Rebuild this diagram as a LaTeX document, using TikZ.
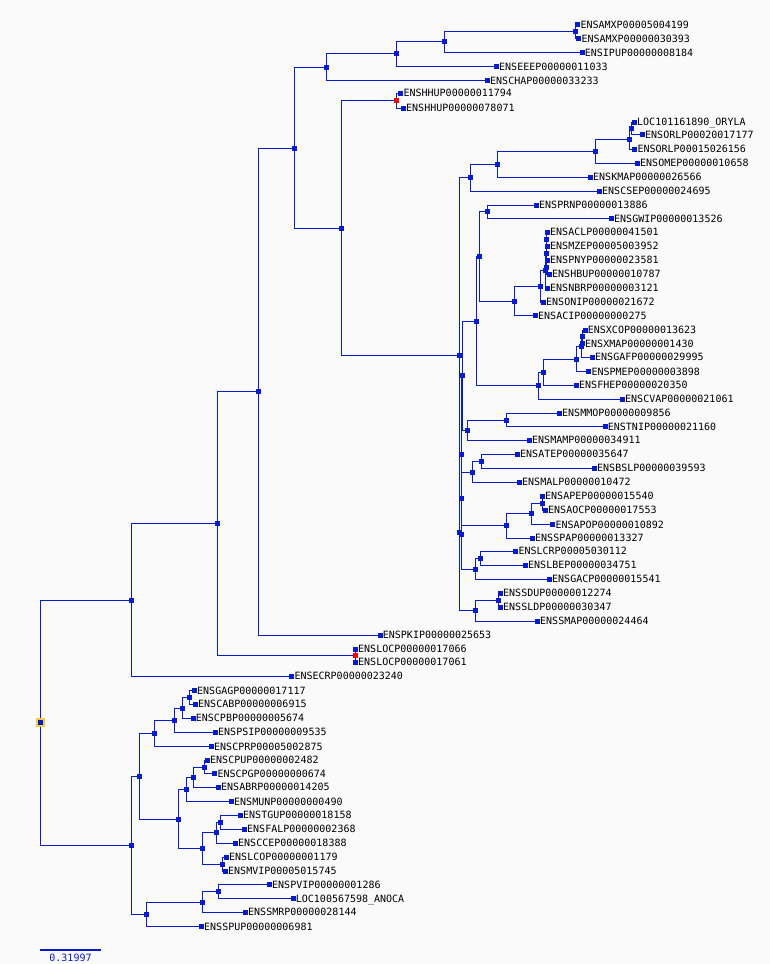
\documentclass[tikz,border=0pt]{standalone}
\usepackage{fontspec}
\setmonofont{DejaVu Sans Mono}
\usetikzlibrary{backgrounds}
\definecolor{tb}{RGB}{8,28,204}
\definecolor{bgc}{RGB}{250,250,250}
\definecolor{hl}{RGB}{240,205,70}
\tikzset{
  leaf/.style={rectangle,fill=tb,minimum size=5pt,inner sep=0pt,label distance=2.2pt},
  inode/.style={rectangle,fill=tb,minimum size=5pt,inner sep=0pt},
  rnode/.style={rectangle,fill=red,minimum size=5pt,inner sep=0pt},
  lab/.style={inner sep=0pt,font=\ttfamily\fontsize{10}{10}\selectfont,text=black,text height=7.3pt,text depth=0pt},
  edge/.style={draw=tb,line width=1pt}
}
\newcommand\lf[3]{\node[leaf,label={[lab]right:#3}] (#1) at (#2) {};}
\newcommand\nd[2]{\node[inode] (#1) at (#2) {};}
\begin{document}
\begin{tikzpicture}[x=1pt,y=-1pt]
\useasboundingbox (0,0) rectangle (770,964);
% root
\node[rectangle,fill=hl,minimum size=9pt,inner sep=0pt] (rh) at (40.5,722) {};
\nd{r}{40.5,722}
\nd{D}{131.7,600}
\nd{C}{217,523}
\nd{B}{258,391}
\nd{A}{294,148}
\nd{T1}{326,67.3}
\nd{T2}{396,53.5}
\nd{T3}{444,41.5}
\nd{T4}{575.5,31.3}
\lf{AMX1}{577.7,24.5}{ENSAMXP00005004199}
\lf{AMX2}{578.7,38.5}{ENSAMXP00000030393}
\lf{IPU}{582,52.7}{ENSIPUP00000008184}
\lf{EEE}{496.3,66.7}{ENSEEEP00000011033}
\lf{CHA}{487.3,80.7}{ENSCHAP00000033233}
\nd{H}{341,228}
\node[rnode] (HH) at (396.3,100.7) {};
\lf{HHU1}{400.7,93.3}{ENSHHUP00000011794}
\lf{HHU2}{403.3,108}{ENSHHUP00000078071}
\nd{BIG}{459.7,355.3}
\nd{N177}{470.3,177.3}
\nd{N164}{497.3,164.3}
\nd{N151}{595.3,151.3}
\nd{N139}{629.3,139.3}
\nd{N128}{631.3,128.3}
\lf{ORYLA}{634.3,122.3}{LOC101161890\_ORYLA}
\lf{ORLP1}{642.3,134.7}{ENSORLP00020017177}
\lf{ORLP2}{634.7,149}{ENSORLP00015026156}
\lf{OMEP}{637.3,163.3}{ENSOMEP00000010658}
\lf{KMAP}{590.3,177.3}{ENSKMAP00000026566}
\lf{CSEP}{599.3,191.3}{ENSCSEP00000024695}
\nd{N532}{459.5,532.3}
\nd{N454}{461.5,454.3}
\nd{N375}{462,375.3}
\nd{N321}{476,321.7}
\nd{N256}{479.3,256}
\nd{N211}{487.3,211}
\lf{PRNP}{536.3,205}{ENSPRNP00000013886}
\lf{GWIP}{611.3,218.7}{ENSGWIP00000013526}
\nd{N301}{514.7,301.3}
\nd{N286}{540.3,286.3}
\nd{N270}{545.3,270.8}
\nd{N253}{546.2,253.3}
\nd{N239}{546.8,239.2}
\nd{N267}{546.5,267.3}
\lf{ACLP}{547.3,232.3}{ENSACLP00000041501}
\lf{MZEP}{547.3,246}{ENSMZEP00005003952}
\lf{PNYP}{547.3,260.3}{ENSPNYP00000023581}
\lf{HBUP}{549.3,274.3}{ENSHBUP00000010787}
\lf{NBRP}{547.3,288.3}{ENSNBRP00000003121}
\lf{ONIP}{543.3,302}{ENSONIP00000021672}
\lf{ACIP}{535.3,315.7}{ENSACIP00000000275}
\nd{N385}{538.3,385.3}
\nd{N372}{543.3,372.3}
\nd{N359}{576.3,359.3}
\nd{N347}{581.7,346.8}
\nd{N336}{582.3,336.8}
\lf{XCOP}{585,330}{ENSXCOP00000013623}
\lf{XMAP}{582.3,343.7}{ENSXMAP00000001430}
\lf{GAFP}{592.3,357.3}{ENSGAFP00000029995}
\lf{PMEP}{588.7,371.7}{ENSPMEP00000003898}
\lf{FHEP}{576.3,385.3}{ENSFHEP00000020350}
\lf{CVAP}{622.3,399.3}{ENSCVAP00000021061}
\nd{N430}{467.3,430}
\nd{N420}{506.3,420}
\lf{MMOP}{559.3,413.3}{ENSMMOP00000009856}
\lf{TNIP}{605,426.7}{ENSTNIP00000021160}
\lf{MAMP}{529.3,440.3}{ENSMAMP00000034911}
\nd{N534}{461.7,534.3}
\nd{N498}{461.5,498.3}
\nd{N472}{472.3,472.3}
\nd{N461}{481.3,461.3}
\lf{ATEP}{517.3,454.3}{ENSATEP00000035647}
\lf{BSLP}{594.3,468.3}{ENSBSLP00000039593}
\lf{MALP}{519.3,482.3}{ENSMALP00000010472}
\nd{N525}{506.3,525.3}
\nd{N513}{531.3,513.3}
\nd{N503}{542.3,503.3}
\lf{APEP}{542.3,496.3}{ENSAPEP00000015540}
\lf{AOCP}{545.3,510.3}{ENSAOCP00000017553}
\lf{APOP}{552.7,524.7}{ENSAPOP00000010892}
\lf{SPAP}{532.3,538.3}{ENSSPAP00000013327}
\nd{N569}{475.3,569.3}
\nd{N558}{480.3,558.3}
\lf{LCRP}{515.7,551.3}{ENSLCRP00005030112}
\lf{LBEP}{525.3,565.3}{ENSLBEP00000034751}
\lf{GACP}{549.3,579.3}{ENSGACP00000015541}
\nd{N610}{475.3,610.3}
\nd{N600}{498.3,600.3}
\lf{SDUP}{500.3,593.3}{ENSSDUP00000012274}
\lf{SLDP}{500.3,607.3}{ENSSLDP00000030347}
\lf{SMAP}{537.3,621.3}{ENSSMAP00000024464}
\lf{PKIP}{380,635.3}{ENSPKIP00000025653}
\node[rnode] (LOCn) at (355.3,655.7) {};
\lf{LOC1}{355.3,649.3}{ENSLOCP00000017066}
\lf{LOC2}{355.3,662}{ENSLOCP00000017061}
\lf{ECRP}{291.7,676.3}{ENSECRP00000023240}
\nd{E}{131.3,845.3}
\nd{N777}{139.3,776.7}
\nd{N733}{154.3,733.3}
\nd{N720}{174.3,720.3}
\nd{N709}{182.3,708.7}
\nd{N697}{189.3,697.3}
\lf{GAGP}{194.3,690.7}{ENSGAGP00000017117}
\lf{CABP}{195.3,704.3}{ENSCABP00000006915}
\lf{CPBP}{193,718.3}{ENSCPBP00000005674}
\lf{PSIP}{215.3,732.3}{ENSPSIP00000009535}
\lf{CPRP}{211.3,746.7}{ENSCPRP00005002875}
\nd{N820}{178.3,819.3}
\nd{N789}{186.3,789.3}
\nd{N777b}{193.3,777}
\nd{N767}{204.3,767}
\lf{CPUP}{207.3,760.3}{ENSCPUP00000002482}
\lf{CPGP}{214.7,773.7}{ENSCPGP00000000674}
\lf{ABRP}{218.3,787.3}{ENSABRP00000014205}
\lf{MUNP}{231.3,801.7}{ENSMUNP00000000490}
\nd{N848}{202.3,848.3}
\nd{N832}{216.3,832.3}
\nd{N822}{220.3,822.3}
\lf{TGUP}{240.3,815.3}{ENSTGUP00000018158}
\lf{FALP}{244.3,829.3}{ENSFALP00000002368}
\lf{CCEP}{235.3,843.3}{ENSCCEP00000018388}
\nd{N864}{222.3,864.3}
\lf{LCOP}{226.3,857.3}{ENSLCOP00000001179}
\lf{MVIP}{225.3,871.3}{ENSMVIP00005015745}
\nd{N914}{146.3,914.3}
\nd{N902}{202.3,902.3}
\nd{N891}{218.3,891.7}
\lf{PVIP}{269.3,884.7}{ENSPVIP00000001286}
\lf{ANOCA}{293,898.7}{LOC100567598\_ANOCA}
\lf{SMRP}{245.3,912.3}{ENSSMRP00000028144}
\lf{SPUP}{201.3,926.7}{ENSSPUP00000006981}
% scale bar
\coordinate (sb1) at (40,949.7);
\coordinate (sb2) at (101,949.7);
\node[inner sep=0pt,font=\ttfamily\fontsize{10}{10}\selectfont,text=tb] (sbl) at (70.5,958) {0.31997};
\begin{pgfonlayer}{background}
\fill[bgc] (0,0) rectangle (770,964);
\draw[tb,line width=2pt] (sb1) -- (sb2);
\foreach \p/\c in {r/D,r/E,D/C,D/ECRP,C/B,C/LOCn,LOCn/LOC1,LOCn/LOC2,B/A,B/PKIP,
A/T1,A/H,T1/T2,T1/CHA,T2/T3,T2/EEE,T3/T4,T3/IPU,T4/AMX1,T4/AMX2,H/HH,H/BIG,HH/HHU1,HH/HHU2,
BIG/N177,BIG/N532,N177/N164,N177/CSEP,N164/N151,N164/KMAP,N151/N139,N151/OMEP,N139/N128,N139/ORLP2,
N128/ORYLA,N128/ORLP1,N532/N454,N532/N610,N454/N375,N454/N534,N375/N321,N375/N430,N321/N256,N321/N385,
N256/N211,N256/N301,N211/PRNP,N211/GWIP,N301/N286,N301/ACIP,N286/N270,N286/ONIP,N270/N253,N270/NBRP,
N253/N239,N253/N267,N239/ACLP,N239/MZEP,N267/PNYP,N267/HBUP,N385/N372,N385/CVAP,N372/N359,N372/FHEP,
N359/N347,N359/PMEP,N347/N336,N347/GAFP,N336/XCOP,N336/XMAP,N430/N420,N430/MAMP,N420/MMOP,N420/TNIP,
N534/N498,N534/N569,N498/N472,N498/N525,N472/N461,N472/MALP,N461/ATEP,N461/BSLP,N525/N513,N525/SPAP,
N513/N503,N513/APOP,N503/APEP,N503/AOCP,N569/N558,N569/GACP,N558/LCRP,N558/LBEP,N610/N600,N610/SMAP,
N600/SDUP,N600/SLDP,E/N777,E/N914,N777/N733,N777/N820,N733/N720,N733/CPRP,N720/N709,N720/PSIP,
N709/N697,N709/CPBP,N697/GAGP,N697/CABP,N820/N789,N820/N848,N789/N777b,N789/MUNP,N777b/N767,N777b/ABRP,
N767/CPUP,N767/CPGP,N848/N832,N848/N864,N832/N822,N832/CCEP,N822/TGUP,N822/FALP,N864/LCOP,N864/MVIP,
N914/N902,N914/SPUP,N902/N891,N902/SMRP,N891/PVIP,N891/ANOCA}
  \draw[edge] (\p.center) |- (\c.center);
\end{pgfonlayer}
\end{tikzpicture}
\end{document}
